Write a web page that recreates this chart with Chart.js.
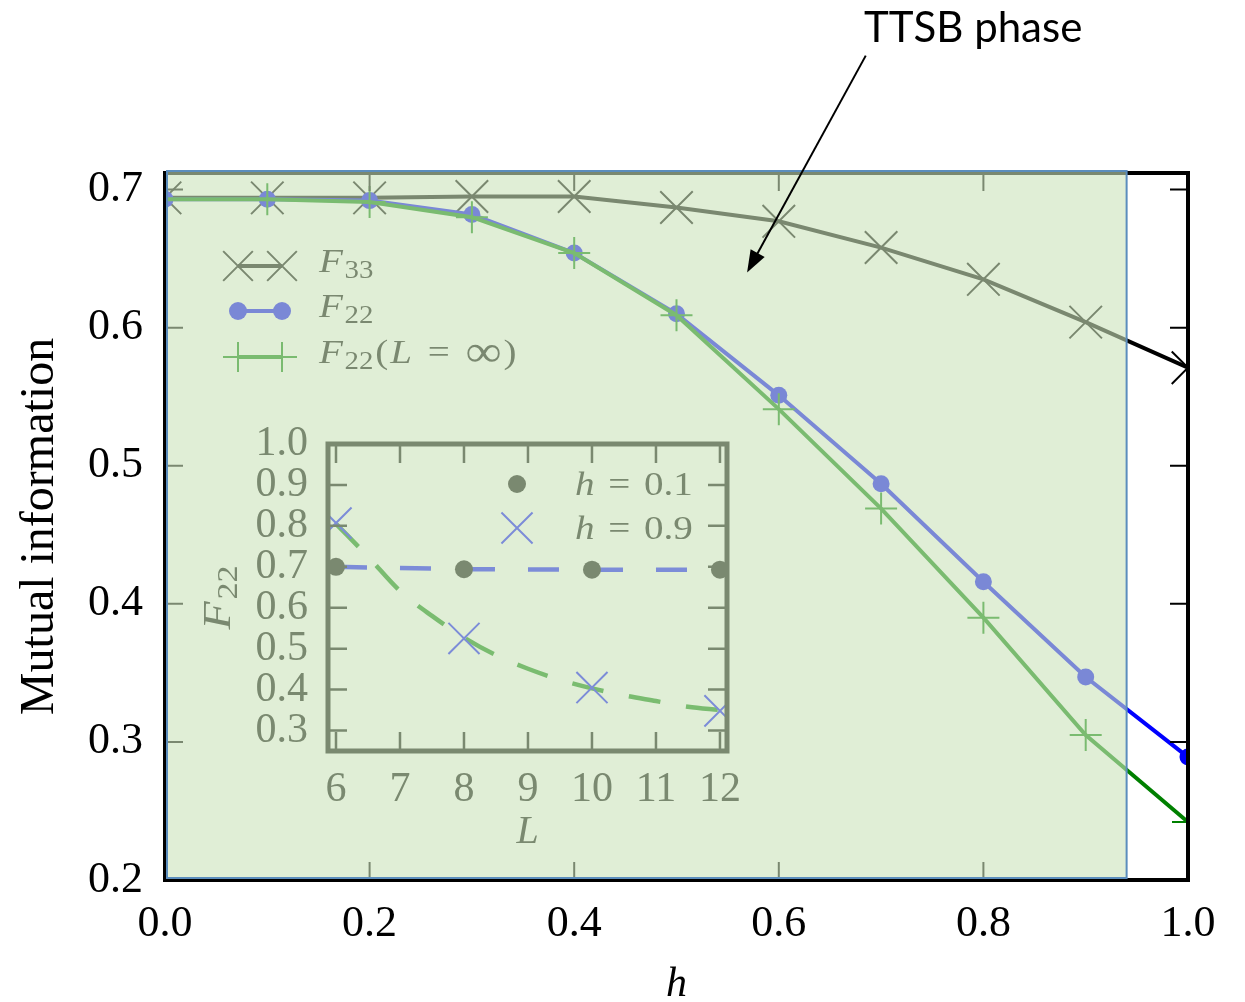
<!DOCTYPE html>
<html>
<head>
<meta charset="utf-8">
<script src="https://cdn.jsdelivr.net/npm/chart.js@4.4.0/dist/chart.umd.min.js"></script>
<style>
    html, body { margin: 0; padding: 0; background: #fff; }
    #wrap  { position: relative; width: 1245px; height: 1002px; }
    #main  { position: absolute; left: 0; top: 0; }
    #inset { position: absolute; left: 200px; top: 420px; }
</style>
</head>
<body>
<div id="wrap">
    <canvas id="main" width="1245" height="1002"></canvas>
    <canvas id="inset" width="560" height="440"></canvas>
</div>
<script>
// ---- main panel data
const hVals  = [0.0, 0.1, 0.2, 0.3, 0.4, 0.5, 0.6, 0.7, 0.8, 0.9, 1.0];
const f33    = [0.694, 0.694, 0.694, 0.695, 0.695, 0.687, 0.677, 0.658, 0.635, 0.604, 0.571];
const f22    = [0.693, 0.693, 0.692, 0.682, 0.654, 0.610, 0.551, 0.487, 0.416, 0.347, 0.289];
const f22Inf = [0.693, 0.693, 0.691, 0.680, 0.654, 0.609, 0.541, 0.469, 0.390, 0.305, 0.242];
const xTicks = [0.0, 0.2, 0.4, 0.6, 0.8, 1.0];
const yTicks = [0.2, 0.3, 0.4, 0.5, 0.6, 0.7];
const phaseEnd = 0.94;              // right edge of the shaded TTSB region (in h)
const arrowTail = { x: 0.685, y: 0.797 };
const arrowTip  = { x: 0.569, y: 0.640 };
const phaseLabel = { x: 0.79, y: 0.817, text: 'TTSB phase' };

// ---- inset data
const lVals   = [6, 8, 10, 12];
const h01     = [0.700, 0.694, 0.693, 0.693];
const h09     = [0.807, 0.525, 0.405, 0.348];
const fitL    = [6, 6.5, 7, 7.5, 8, 8.5, 9, 9.5, 10, 10.5, 11, 11.5, 12];
const fitH09  = [0.805, 0.725, 0.641, 0.580, 0.527, 0.484, 0.451, 0.424, 0.403, 0.386, 0.372, 0.358, 0.350];
const insetXTicks = [6, 7, 8, 9, 10, 11, 12];
const insetYTicks = [0.3, 0.4, 0.5, 0.6, 0.7, 0.8, 0.9, 1.0];

const serif = "'Liberation Serif', 'DejaVu Serif', serif";
const shade = 'rgba(203, 226, 187, 0.6)';
// colours as they look under the shade (inset lives fully inside it)
const tBlack = 'rgb(122, 137, 112)';
const tBlue  = 'rgb(124, 140, 216)';
const tGreen = 'rgb(122, 188, 112)';
const stretch = 1.15;   // TeX glyphs run wider than Liberation Serif

function marker(ctx, style, x, y, r) {
    ctx.beginPath();
    if (style === 'circle') {
        ctx.arc(x, y, r, 0, Math.PI * 2);
        ctx.fill();
        return;
    }
    if (style === 'cross') {
        ctx.moveTo(x - r, y); ctx.lineTo(x + r, y);
        ctx.moveTo(x, y - r); ctx.lineTo(x, y + r);
    } else {
        const d = r * Math.SQRT1_2;
        ctx.moveTo(x - d, y - d); ctx.lineTo(x + d, y + d);
        ctx.moveTo(x - d, y + d); ctx.lineTo(x + d, y - d);
    }
    ctx.stroke();
}

// parts: [text, kind]  kind: 'i' italic, 'r' roman, 's' subscript, 'b' big roman, 'g' gap (em fraction)
function partFont(k, size) {
    const fs = k === 's' ? size * 0.74 : k === 'b' ? size * 1.3 : size;
    return (k === 'i' ? 'italic ' : '') + fs + 'px ' + serif;
}

function mathWidth(ctx, parts, size) {
    let w = 0;
    for (const [t, k] of parts) {
        if (k === 'g') { w += t * size; continue; }
        ctx.font = partFont(k, size);
        w += ctx.measureText(t).width;
    }
    return w * stretch;
}

function mathText(ctx, parts, x, y, size) {
    ctx.save();
    ctx.translate(x, y);
    ctx.scale(stretch, 1);
    ctx.textBaseline = 'alphabetic';
    ctx.textAlign = 'left';
    let cx = 0;
    for (const [t, k] of parts) {
        if (k === 'g') { cx += t * size; continue; }
        ctx.font = partFont(k, size);
        ctx.fillText(t, cx, k === 's' ? size * 0.17 : k === 'b' ? size * 0.08 : 0);
        cx += ctx.measureText(t).width;
    }
    ctx.restore();
}

function pts(xs, ys) {
    return xs.map((x, i) => ({ x, y: ys[i] }));
}

const mainSeries = [
    { label: [['F', 'i'], [0.04, 'g'], ['33', 's']], data: f33, color: '#000000', style: 'crossRot', radius: 23, legendR: 21, order: 3 },
    { label: [['F', 'i'], [0.04, 'g'], ['22', 's']], data: f22, color: '#0000ff', style: 'circle', radius: 8.5, legendR: 9, order: 2 },
    { label: [['F', 'i'], [0.04, 'g'], ['22', 's'], [0.05, 'g'], ['(', 'r'], [0.05, 'g'], ['L', 'i'], [0.4, 'g'], ['=', 'r'], [0.4, 'g'], ['∞', 'b'], [0.05, 'g'], [')', 'r']],
      data: f22Inf, color: '#008000', style: 'cross', radius: 16, legendR: 15, order: 1 },
];

const mainDecor = {
    id: 'mainDecor',
    afterDatasetsDraw(chart) {
        const { ctx, chartArea: a, scales: { x, y } } = chart;
        ctx.save();

        // inward ticks on all four sides
        ctx.strokeStyle = '#000';
        ctx.lineWidth = 2;
        ctx.beginPath();
        for (const v of xTicks) {
            const px = x.getPixelForValue(v);
            ctx.moveTo(px, a.bottom); ctx.lineTo(px, a.bottom - 18);
            ctx.moveTo(px, a.top);    ctx.lineTo(px, a.top + 18);
        }
        for (const v of yTicks) {
            const py = y.getPixelForValue(v);
            ctx.moveTo(a.left, py);  ctx.lineTo(a.left + 18, py);
            ctx.moveTo(a.right, py); ctx.lineTo(a.right - 18, py);
        }
        ctx.stroke();

        // frame
        ctx.lineWidth = 4;
        ctx.strokeRect(a.left, a.top, a.right - a.left, a.bottom - a.top);

        // legend
        const rows = [a.top + 93, a.top + 138, a.top + 184];
        mainSeries.forEach((s, i) => {
            const yy = rows[i];
            const x1 = a.left + 73, x2 = a.left + 117;
            ctx.strokeStyle = s.color;
            ctx.fillStyle = s.color;
            ctx.lineWidth = 4;
            ctx.beginPath(); ctx.moveTo(x1, yy); ctx.lineTo(x2, yy); ctx.stroke();
            ctx.lineWidth = 2;
            marker(ctx, s.style, x1, yy, s.legendR);
            marker(ctx, s.style, x2, yy, s.legendR);
            ctx.fillStyle = '#000';
            mathText(ctx, s.label, a.left + 154, yy + 6, 34);
        });

        // shaded phase region
        const xr = x.getPixelForValue(phaseEnd);
        ctx.fillStyle = shade;
        ctx.fillRect(a.left + 2, a.top - 2, xr - a.left - 2, a.bottom - a.top);
        ctx.strokeStyle = '#5b8dbd';
        ctx.lineWidth = 2;
        ctx.strokeRect(a.left + 2, a.top - 2, xr - a.left - 2, a.bottom - a.top);
        ctx.restore();
    },
    afterDraw(chart) {
        const { ctx, scales: { x, y } } = chart;
        const tx = x.getPixelForValue(arrowTail.x), ty = y.getPixelForValue(arrowTail.y);
        const hx = x.getPixelForValue(arrowTip.x),  hy = y.getPixelForValue(arrowTip.y);
        const ang = Math.atan2(hy - ty, hx - tx);
        const len = 22, half = 8;
        ctx.save();
        ctx.strokeStyle = '#000';
        ctx.fillStyle = '#000';
        ctx.lineWidth = 2;
        ctx.beginPath();
        ctx.moveTo(tx, ty);
        ctx.lineTo(hx - Math.cos(ang) * len * 0.8, hy - Math.sin(ang) * len * 0.8);
        ctx.stroke();
        ctx.beginPath();
        ctx.moveTo(hx, hy);
        ctx.lineTo(hx - Math.cos(ang) * len - Math.sin(ang) * half, hy - Math.sin(ang) * len + Math.cos(ang) * half);
        ctx.lineTo(hx - Math.cos(ang) * len + Math.sin(ang) * half, hy - Math.sin(ang) * len - Math.cos(ang) * half);
        ctx.closePath();
        ctx.fill();

        ctx.font = "42px Lato, 'Open Sans', sans-serif";
        ctx.textAlign = 'center';
        ctx.textBaseline = 'middle';
        ctx.fillText(phaseLabel.text, x.getPixelForValue(phaseLabel.x), y.getPixelForValue(phaseLabel.y));
        ctx.restore();
    },
};

new Chart(document.getElementById('main'), {
    type: 'line',
    data: {
        datasets: mainSeries.map(s => ({
            label: s.label.filter(p => p[1] !== 'g').map(p => p[0]).join(''),
            data: pts(hVals, s.data),
            borderColor: s.color,
            backgroundColor: s.color,
            pointBorderColor: s.color,
            pointBackgroundColor: s.color,
            borderWidth: 4,
            pointStyle: s.style,
            pointRadius: s.radius,
            pointBorderWidth: s.style === 'circle' ? 0 : 2,
            tension: 0,
            order: s.order,
        })),
    },
    options: {
        responsive: false,
        animation: false,
        events: [],
        layout: { padding: { top: 173, right: 57, left: 0, bottom: 0 } },
        plugins: { legend: { display: false }, tooltip: { enabled: false } },
        scales: {
            x: {
                type: 'linear', min: 0, max: 1,
                grid: { display: false, drawTicks: false },
                border: { display: false },
                afterBuildTicks: s => { s.ticks = xTicks.map(v => ({ value: v })); },
                afterFit: s => { s.height = 122; },
                ticks: { color: '#000', font: { family: serif, size: 44 }, padding: 18, maxRotation: 0, callback: v => v.toFixed(1) },
                title: { display: true, text: 'h', color: '#000', font: { family: serif, size: 42, style: 'italic', lineHeight: 0.8 }, padding: { top: 0, bottom: 0 } },
            },
            y: {
                type: 'linear', min: 0.2, max: 0.712,
                grid: { display: false, drawTicks: false },
                border: { display: false },
                afterBuildTicks: s => { s.ticks = yTicks.map(v => ({ value: v })); },
                afterFit: s => { s.width = 165; },
                ticks: { color: '#000', font: { family: serif, size: 44 }, padding: 22, callback: v => v.toFixed(1) },
                title: { display: true, text: 'Mutual information', color: '#000', font: { family: serif, size: 48 }, padding: { top: 12, bottom: 0 } },
            },
        },
    },
    plugins: [mainDecor],
});

// ---- inset
const insetDecor = {
    id: 'insetDecor',
    afterDatasetsDraw(chart) {
        const { ctx, chartArea: a, scales: { x, y } } = chart;
        ctx.save();
        ctx.strokeStyle = tBlack;
        ctx.lineWidth = 2.5;
        ctx.beginPath();
        for (const v of insetXTicks) {
            const px = x.getPixelForValue(v);
            ctx.moveTo(px, a.bottom); ctx.lineTo(px, a.bottom - 19);
            ctx.moveTo(px, a.top);    ctx.lineTo(px, a.top + 19);
        }
        for (const v of insetYTicks) {
            const py = y.getPixelForValue(v);
            ctx.moveTo(a.left, py);  ctx.lineTo(a.left + 19, py);
            ctx.moveTo(a.right, py); ctx.lineTo(a.right - 19, py);
        }
        ctx.stroke();
        ctx.lineWidth = 5;
        ctx.strokeRect(a.left, a.top, a.right - a.left, a.bottom - a.top);

        // legend
        ctx.fillStyle = tBlack;
        marker(ctx, 'circle', a.left + 189, a.top + 40, 9);
        ctx.strokeStyle = tBlue;
        ctx.lineWidth = 2;
        marker(ctx, 'crossRot', a.left + 189, a.top + 84, 22);
        ctx.fillStyle = tBlack;
        mathText(ctx, [['h', 'i'], [0.35, 'g'], ['=', 'r'], [0.35, 'g'], ['0.1', 'r']], a.left + 247, a.top + 51, 34);
        mathText(ctx, [['h', 'i'], [0.35, 'g'], ['=', 'r'], [0.35, 'g'], ['0.9', 'r']], a.left + 247, a.top + 95, 34);

        // y title F_22, rotated
        const label = [['F', 'i'], [0.04, 'g'], ['22', 's']];
        const w = mathWidth(ctx, label, 40);
        ctx.translate(a.left - 98, (a.top + a.bottom) / 2);
        ctx.rotate(-Math.PI / 2);
        mathText(ctx, label, -w / 2, 0, 40);
        ctx.restore();
    },
};

new Chart(document.getElementById('inset'), {
    type: 'line',
    data: {
        datasets: [
            { data: pts(lVals, h01), showLine: false, pointStyle: 'circle', pointRadius: 9, pointBorderWidth: 0,
              pointBackgroundColor: tBlack, borderColor: tBlack, order: 1 },
            { data: pts(lVals, h09), showLine: false, pointStyle: 'crossRot', pointRadius: 22, pointBorderWidth: 2,
              pointBorderColor: tBlue, borderColor: tBlue, order: 2 },
            { data: pts(lVals, h01), borderColor: tBlue, borderWidth: 4.5, borderDash: [31, 33], pointRadius: 0, tension: 0, order: 3 },
            { data: pts(fitL, fitH09), borderColor: tGreen, borderWidth: 4.5, borderDash: [32, 26], pointRadius: 0,
              cubicInterpolationMode: 'monotone', order: 4 },
        ],
    },
    options: {
        responsive: false,
        animation: false,
        events: [],
        layout: { padding: { top: 17, right: 33, left: 0, bottom: 0 } },
        plugins: { legend: { display: false }, tooltip: { enabled: false } },
        scales: {
            x: {
                type: 'linear', min: 5.875, max: 12.11,
                grid: { display: false, drawTicks: false },
                border: { display: false },
                afterBuildTicks: s => { s.ticks = insetXTicks.map(v => ({ value: v })); },
                afterFit: s => { s.height = 109; s.paddingLeft = 0; s.paddingRight = 0; },
                ticks: { color: tBlack, font: { family: serif, size: 42 }, padding: 14, maxRotation: 0, autoSkip: false },
                title: { display: true, text: 'L', color: tBlack, font: { family: serif, size: 40, style: 'italic', lineHeight: 1.2 }, padding: { top: 0, bottom: 4 } },
            },
            y: {
                type: 'linear', min: 0.25, max: 1.0,
                grid: { display: false, drawTicks: false },
                border: { display: false },
                afterBuildTicks: s => { s.ticks = insetYTicks.map(v => ({ value: v })); },
                afterFit: s => { s.width = 128; s.paddingTop = 0; s.paddingBottom = 0; },
                ticks: { color: tBlack, font: { family: serif, size: 42 }, padding: 20, autoSkip: false, callback: v => v.toFixed(1) },
            },
        },
    },
    plugins: [insetDecor],
});
</script>
</body>
</html>
